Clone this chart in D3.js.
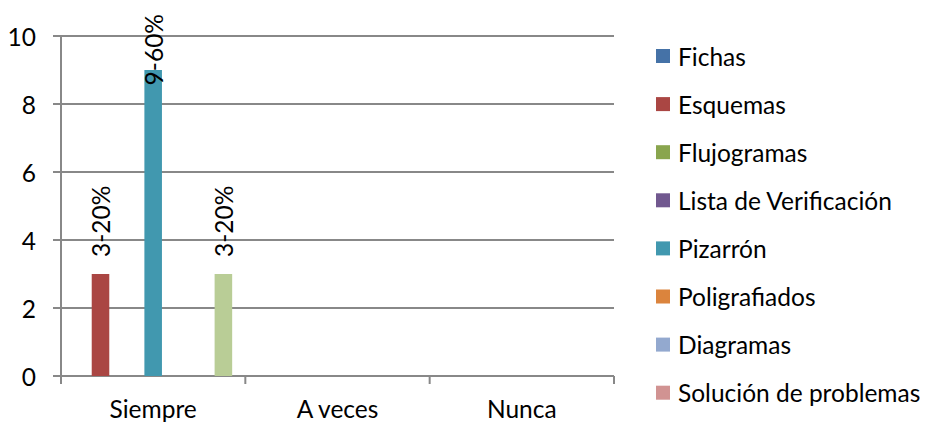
<!DOCTYPE html>
<html>
<head>
<meta charset="utf-8">
<script src="https://cdn.jsdelivr.net/npm/d3@7"></script>
<style>
  html, body { margin: 0; padding: 0; background: #fff; }
  svg { display: block; }
  text { font-family: Lato, "Open Sans", sans-serif; fill: #000; }
</style>
</head>
<body>
<svg id="chart" width="926" height="422"></svg>
<script>
// ---- data ----
const categories = ["Siempre", "A veces", "Nunca"];
const seriesNames = ["Fichas", "Esquemas", "Flujogramas", "Lista de Verificación", "Pizarrón",
  "Poligrafiados", "Diagramas", "Solución de problemas", "Serie 9"];
const seriesColors = ["#4572A7", "#AA4643", "#89A54E", "#71588F", "#4198AF",
  "#DB843D", "#93A9CF", "#D19392", "#B9CD96"];
// values[series][category]; null = blank cell
const values = [
  [null, null, null],
  [3, null, null],
  [null, null, null],
  [null, null, null],
  [9, null, null],
  [null, null, null],
  [null, null, null],
  [null, null, null],
  [3, null, null]
];
const dataLabels = [
  [null, null, null],
  ["3-20%", null, null],
  [null, null, null],
  [null, null, null],
  ["9-60%", null, null],
  [null, null, null],
  [null, null, null],
  [null, null, null],
  ["3-20%", null, null]
];
const yTicks = [0, 2, 4, 6, 8, 10];

// ---- layout ----
const W = 926, H = 422;
const svg = d3.select("#chart");
const plot = { left: 61, right: 614, top: 36, bottom: 376 };
const fontSize = 24.5;
const gridColor = "#888888";

const x0 = d3.scaleBand().domain(categories).range([plot.left, plot.right]).padding(0);
const gw = x0.bandwidth();
const bw = gw / (seriesNames.length + 1.5);
const x1 = d3.scaleBand().domain(d3.range(seriesNames.length))
  .range([0.75 * bw, gw - 0.75 * bw]).padding(0);
const y = d3.scaleLinear().domain([0, 10]).range([plot.bottom, plot.top]);

// gridlines + y ticks
svg.append("g").selectAll("line").data(yTicks).join("line")
  .attr("x1", plot.left - 8).attr("x2", plot.right)
  .attr("y1", d => y(d)).attr("y2", d => y(d))
  .attr("stroke", gridColor).attr("stroke-width", 2);

// y axis line
svg.append("line")
  .attr("x1", plot.left).attr("x2", plot.left)
  .attr("y1", plot.top).attr("y2", plot.bottom + 8)
  .attr("stroke", gridColor).attr("stroke-width", 2);

// category ticks
const catEdges = categories.map(c => x0(c)).concat([plot.right]);
svg.append("g").selectAll("line").data(catEdges).join("line")
  .attr("x1", d => d).attr("x2", d => d)
  .attr("y1", plot.bottom).attr("y2", plot.bottom + 8)
  .attr("stroke", gridColor).attr("stroke-width", 2);

// y tick labels
svg.append("g").selectAll("text").data(yTicks).join("text")
  .attr("x", 36).attr("y", d => y(d))
  .attr("text-anchor", "end").attr("dominant-baseline", "central")
  .attr("font-size", fontSize)
  .text(d => d);

// category labels
svg.append("g").selectAll("text").data(categories).join("text")
  .attr("x", d => x0(d) + gw / 2).attr("y", 418)
  .attr("text-anchor", "middle")
  .attr("font-size", fontSize)
  .text(d => d);

// bars
const barData = [];
values.forEach((row, si) => row.forEach((v, ci) => {
  if (v != null) barData.push({ si, ci, v, label: dataLabels[si][ci] });
}));

svg.append("g").selectAll("rect").data(barData).join("rect")
  .attr("x", d => x0(categories[d.ci]) + x1(d.si))
  .attr("width", x1.bandwidth())
  .attr("y", d => y(d.v))
  .attr("height", d => y(0) - y(d.v))
  .attr("fill", d => seriesColors[d.si]);

// data labels (rotated)
const lbls = svg.append("g").selectAll("text").data(barData.filter(d => d.label)).join("text")
  .attr("font-size", fontSize)
  .attr("dominant-baseline", "central")
  .attr("text-anchor", "start")
  .text(d => d.label);
lbls.each(function(d) {
  const len = this.getComputedTextLength();
  const cx = x0(categories[d.ci]) + x1(d.si) + x1.bandwidth() / 2;
  let start = y(d.v) - 17;
  start = Math.max(start, 14 + len);
  d3.select(this).attr("transform", `translate(${cx},${start}) rotate(-90)`);
});

// legend: only the entries that fit inside the chart area are shown (as in the reference)
const legendStep = 48.1, legendTop = 56;
const legendItems = seriesNames
  .map((name, i) => ({ name, i, cy: legendTop + i * legendStep }))
  .filter(d => d.cy + 14 <= H);
const lg = svg.append("g").selectAll("g").data(legendItems).join("g")
  .attr("transform", d => `translate(656, ${d.cy})`);
lg.append("rect").attr("x", 0).attr("y", -7).attr("width", 14).attr("height", 14)
  .attr("fill", d => seriesColors[d.i]);
lg.append("text").attr("x", 22).attr("y", 0)
  .attr("dominant-baseline", "central")
  .attr("font-size", fontSize)
  .text(d => d.name);
</script>
</body>
</html>
